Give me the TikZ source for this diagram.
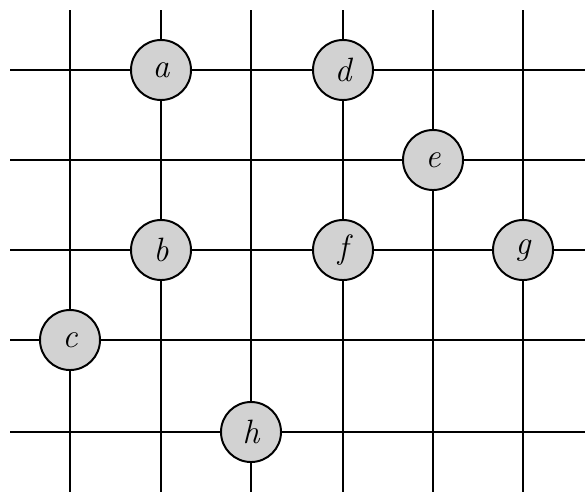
\documentclass[tikz,border=0pt]{standalone}
\usetikzlibrary{positioning}
\tikzset{
  gridline/.style={line width=1pt, black},
  stone/.style={circle, draw, line width=1.4pt, fill=gray!35,
    minimum size=1.5cm, inner sep=0pt,
    font=\fontsize{24}{28}\selectfont\itshape}
}
\begin{document}
\begin{tikzpicture}[x=0.025cm, y=-0.025cm]
      \useasboundingbox (0,0) rectangle (585,494);

      % Vertical lines
      \foreach \x in {70, 161, 251, 343, 433, 523}{
          \draw[gridline] (\x,10) -- (\x,492);
        }
      % Horizontal lines
      \foreach \y in {70, 160, 250, 340, 432}{
          \draw[gridline] (10,\y) -- (585,\y);
        }

      % Points on the crossings
      \node[stone] (a) at (161,70) {a};
      \node[stone] (d) at (343,70) {d};
      \node[stone] (e) at (433,160) {e};
      \node[stone] (b) at (161,250) {b};
      \node[stone] (f) at (343,250) {f};
      \node[stone] (g) at (523,250) {g};
      \node[stone] (c) at (70,340) {c};
      \node[stone] (h) at (251,432) {h};

    \end{tikzpicture}
\end{document}
